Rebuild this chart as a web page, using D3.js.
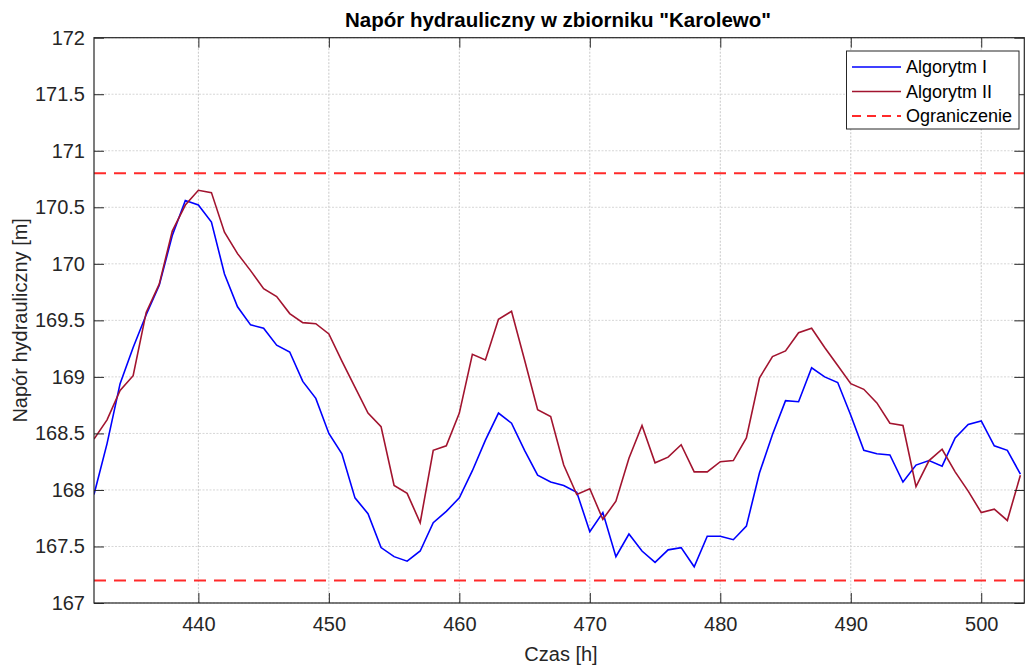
<!DOCTYPE html>
<html>
<head>
<meta charset="utf-8">
<script src="https://cdn.jsdelivr.net/npm/d3@7"></script>
<style>
  html, body { margin: 0; padding: 0; background: #fff; }
  svg { display: block; font-family: "Liberation Sans", Arial, sans-serif; }
</style>
</head>
<body>
<svg id="chart" width="1027" height="666"></svg>
<script>
const hours = d3.range(432, 504);
const algorytmI = [
  167.96, 168.41, 168.94, 169.26, 169.55, 169.81, 170.25, 170.56, 170.52, 170.37,
  169.91, 169.62, 169.46, 169.43, 169.28, 169.22, 168.96, 168.81, 168.50, 168.32,
  167.93, 167.79, 167.49, 167.41, 167.37, 167.46, 167.71, 167.81, 167.93, 168.17,
  168.44, 168.68, 168.59, 168.35, 168.13, 168.07, 168.04, 167.98, 167.63, 167.80,
  167.41, 167.61, 167.46, 167.36, 167.47, 167.49, 167.32, 167.59, 167.59, 167.56,
  167.68, 168.15, 168.49, 168.79, 168.78, 169.08, 169.00, 168.95, 168.66, 168.35,
  168.32, 168.31, 168.07, 168.22, 168.26, 168.21, 168.46, 168.58, 168.61, 168.39,
  168.35, 168.14
];
const algorytmII = [
  168.45, 168.62, 168.88, 169.01, 169.57, 169.82, 170.29, 170.52, 170.65, 170.63,
  170.28, 170.09, 169.94, 169.78, 169.71, 169.56, 169.48, 169.47, 169.38, 169.14,
  168.91, 168.68, 168.56, 168.04, 167.97, 167.71, 168.35, 168.39, 168.68, 169.20,
  169.15, 169.51, 169.58, 169.15, 168.71, 168.65, 168.22, 167.96, 168.01, 167.74,
  167.90, 168.28, 168.57, 168.24, 168.29, 168.40, 168.16, 168.16, 168.25, 168.26,
  168.46, 168.99, 169.18, 169.23, 169.39, 169.43, 169.26, 169.10, 168.94, 168.89,
  168.77, 168.59, 168.57, 168.03, 168.26, 168.36, 168.16, 167.99, 167.80, 167.83,
  167.73, 168.13
];
const limits = [170.8, 167.2];
const xTicks = [440, 450, 460, 470, 480, 490, 500];
const yTicks = [167, 167.5, 168, 168.5, 169, 169.5, 170, 170.5, 171, 171.5, 172];
const seriesNames = ["Algorytm I", "Algorytm II", "Ograniczenie"];
const titleText = 'Napór hydrauliczny w zbiorniku "Karolewo"';
const xLabelText = "Czas [h]";
const yLabelText = "Napór hydrauliczny [m]";

const svg = d3.select("#chart");
const L = 94, R = 1024.3, T = 37.7, B = 603;
const x = d3.scaleLinear().domain([432, 503.3]).range([L, R]);
const y = d3.scaleLinear().domain([167, 172]).range([B, T]);
const axisColor = "#262626";

// grid
const grid = svg.append("g");
grid.selectAll(".gx").data(xTicks).enter().append("line")
  .attr("x1", d => x(d)).attr("x2", d => x(d)).attr("y1", T).attr("y2", B)
  .attr("stroke", "#c8c8c8").attr("stroke-width", 1).attr("stroke-dasharray", "2,1.5");
grid.selectAll(".gy").data(yTicks).enter().append("line")
  .attr("x1", L).attr("x2", R).attr("y1", d => y(d)).attr("y2", d => y(d))
  .attr("stroke", "#d6d6d6").attr("stroke-width", 1).attr("stroke-dasharray", "2,1.5");

// clip
svg.append("clipPath").attr("id", "clip").append("rect")
  .attr("x", L).attr("y", T).attr("width", R - L).attr("height", B - T);
const plot = svg.append("g").attr("clip-path", "url(#clip)");

const line = d3.line().x((d, i) => x(hours[i])).y(d => y(d));

plot.append("path").datum(algorytmI).attr("d", line)
  .attr("fill", "none").attr("stroke", "#0000ff").attr("stroke-width", 1.6);
plot.append("path").datum(algorytmII).attr("d", line)
  .attr("fill", "none").attr("stroke", "#a2142f").attr("stroke-width", 1.6);
plot.selectAll(".lim").data(limits).enter().append("line")
  .attr("x1", L).attr("x2", R).attr("y1", d => y(d)).attr("y2", d => y(d))
  .attr("stroke", "#ff2a2a").attr("stroke-width", 2).attr("stroke-dasharray", "12,8");

// axes
const tickLen = 10;
const xb = svg.append("g").attr("transform", `translate(0,${B})`)
  .call(d3.axisBottom(x).tickValues(xTicks).tickSizeInner(-tickLen).tickSizeOuter(0).tickPadding(14));
const xt = svg.append("g").attr("transform", `translate(0,${T})`)
  .call(d3.axisTop(x).tickValues(xTicks).tickSizeInner(-tickLen).tickSizeOuter(0).tickFormat(""));
const yl = svg.append("g").attr("transform", `translate(${L},0)`)
  .call(d3.axisLeft(y).tickValues(yTicks).tickSizeInner(-tickLen).tickSizeOuter(0).tickPadding(9).tickFormat(d3.format("")));
const yr = svg.append("g").attr("transform", `translate(${R},0)`)
  .call(d3.axisRight(y).tickValues(yTicks).tickSizeInner(-tickLen).tickSizeOuter(0).tickFormat(""));
[xb, xt, yl, yr].forEach(g => {
  g.select(".domain").remove();
  g.selectAll("line").attr("stroke", axisColor);
  g.selectAll("text").attr("fill", axisColor).style("font-size", "20px").style("font-family", "'Liberation Sans', Arial, sans-serif");
});
xb.selectAll("text").attr("dy", "0.71em");
svg.append("rect").attr("x", L).attr("y", T).attr("width", R - L).attr("height", B - T)
  .attr("fill", "none").attr("stroke", axisColor).attr("stroke-width", 1.2);

// title and labels
svg.append("text").attr("x", 558).attr("y", 27).attr("text-anchor", "middle")
  .style("font-size", "20.5px").style("font-weight", "bold").attr("fill", "#000").text(titleText);
svg.append("text").attr("x", 561).attr("y", 661).attr("text-anchor", "middle")
  .style("font-size", "20px").attr("fill", axisColor).text(xLabelText);
svg.append("text").attr("transform", `translate(27,${(T + B) / 2}) rotate(-90)`).attr("text-anchor", "middle")
  .style("font-size", "20px").attr("fill", axisColor).text(yLabelText);

// legend
const lg = svg.append("g");
lg.append("rect").attr("x", 846.5).attr("y", 51).attr("width", 172.5).attr("height", 78)
  .attr("fill", "#fff").attr("stroke", "#262626").attr("stroke-width", 1);
const legendStyles = [
  { c: "#0000ff", dash: null, w: 1.6 },
  { c: "#a2142f", dash: null, w: 1.6 },
  { c: "#ff2a2a", dash: "9,6", w: 2 }
];
seriesNames.forEach((name, i) => {
  const yy = 67 + i * 24.5;
  lg.append("line").attr("x1", 852).attr("x2", 901).attr("y1", yy).attr("y2", yy)
    .attr("stroke", legendStyles[i].c).attr("stroke-width", legendStyles[i].w)
    .attr("stroke-dasharray", legendStyles[i].dash);
  lg.append("text").attr("x", 906).attr("y", yy).attr("dy", "0.35em")
    .style("font-size", "18px").attr("fill", "#000").text(name);
});
</script>
</body>
</html>
